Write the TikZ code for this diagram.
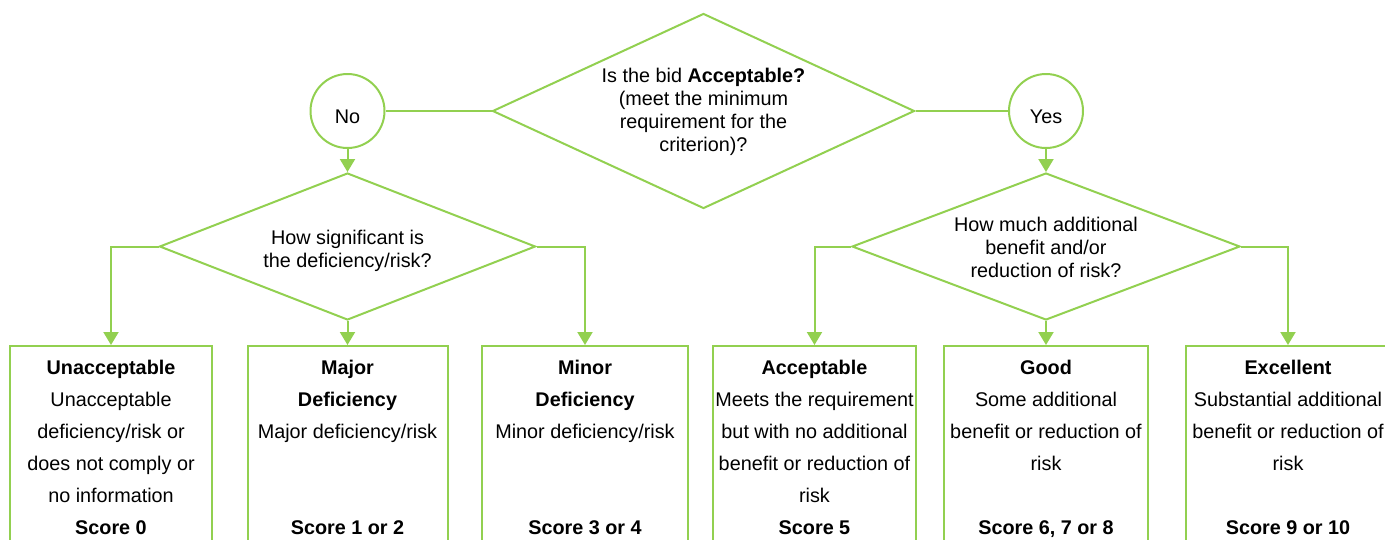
\documentclass[tikz,border=0pt]{standalone}
\usepackage{fontspec}
\setmainfont{Liberation Sans}
\usetikzlibrary{arrows.meta,shapes.geometric}
\definecolor{lgreen}{HTML}{92D050}
\newcommand\mystrut{\rule{0pt}{16pt}}
\begin{document}
\begin{tikzpicture}[x=1pt,y=-1pt,
  line/.style={draw=lgreen,line width=2pt},
  arr/.style={line,-{Triangle[width=15pt,length=13pt]}},
  dia/.style={diamond,draw=lgreen,line width=2pt,inner sep=0pt},
  circ/.style={circle,draw=lgreen,line width=2pt,minimum size=74pt,inner sep=0pt},
  box/.style={rectangle,draw=lgreen,line width=2pt,minimum height=230pt,anchor=north,inner sep=0pt},
  txt/.style={font=\fontsize{19.8}{32}\selectfont,align=center,inner sep=0pt,anchor=north},
  dtxt/.style={font=\fontsize{19.8}{23}\selectfont,align=center,inner sep=0pt,anchor=north},
  lbl/.style={font=\fontsize{19.8}{23}\selectfont,inner sep=0pt,anchor=base}]
\useasboundingbox (0,0) rectangle (1385,539);
\clip (0,0) rectangle (1385,539);
% decision diamonds
\node[dia,minimum width=422pt,minimum height=195pt] (d1) at (703.5,111) {};
\node[dia,minimum width=376pt,minimum height=147pt] (d2) at (347.5,246.5) {};
\node[dia,minimum width=388pt,minimum height=147pt] (d3) at (1046,246.5) {};
% circles
\node[circ] (no) at (347.5,111) {};
\node[circ] (yes) at (1046,111) {};
\node[lbl] (notxt) at (347.5,123) {No};
\node[lbl] (yestxt) at (1046,123.5) {Yes};
% diamond texts
\node[dtxt] (q1) at (703.5,66) {\mystrut Is the bid \textbf{Acceptable?}\\(meet the minimum\\requirement for the\\criterion)?};
\node[dtxt] (q2) at (347.5,228) {\mystrut How significant is\\the deficiency/risk?};
\node[dtxt] (q3) at (1046,215) {\mystrut How much additional\\benefit and/or\\reduction of risk?};
% boxes
\node[box,minimum width=202pt] (b1) at (111,345) {};
\node[box,minimum width=200pt] (b2) at (347.5,345) {};
\node[box,minimum width=206pt] (b3) at (585,345) {};
\node[box,minimum width=203pt] (b4) at (814.5,345) {};
\node[box,minimum width=204pt] (b5) at (1046,345) {};
\node[box,minimum width=204pt] (b6) at (1288,345) {};
% box texts
\node[txt] (t1) at (111,358) {\mystrut\textbf{Unacceptable}\\Unacceptable\\deficiency/risk or\\does not comply or\\no information};
\node[txt] (t2) at (347.5,358) {\mystrut\textbf{Major}\\\textbf{Deficiency}\\Major deficiency/risk};
\node[txt] (t3) at (585,358) {\mystrut\textbf{Minor}\\\textbf{Deficiency}\\Minor deficiency/risk};
\node[txt] (t4) at (814.5,358) {\mystrut\textbf{Acceptable}\\Meets the requirement\\but with no additional\\benefit or reduction of\\risk};
\node[txt] (t5) at (1046,358) {\mystrut\textbf{Good}\\Some additional\\benefit or reduction of\\risk};
\node[txt] (t6) at (1288,358) {\mystrut\textbf{Excellent}\\Substantial additional\\benefit or reduction of\\risk};
\node[lbl] (s1) at (111,534) {\textbf{Score 0}};
\node[lbl] (s2) at (347.5,534) {\textbf{Score 1 or 2}};
\node[lbl] (s3) at (585,534) {\textbf{Score 3 or 4}};
\node[lbl] (s4) at (814.5,534) {\textbf{Score 5}};
\node[lbl] (s5) at (1046,534) {\textbf{Score 6, 7 or 8}};
\node[lbl] (s6) at (1288,534) {\textbf{Score 9 or 10}};
% connectors
\draw[line] (d1.west) -- (no.east);
\draw[line] (d1.east) -- (yes.west);
\draw[arr] (no.south) -- (d2.north);
\draw[arr] (yes.south) -- (d3.north);
\draw[arr] (d2.south) -- (b2.north);
\draw[arr] (d2.west) -| (b1.north);
\draw[arr] (d2.east) -| (b3.north);
\draw[arr] (d3.south) -- (b5.north);
\draw[arr] (d3.west) -| (b4.north);
\draw[arr] (d3.east) -| (b6.north);
\end{tikzpicture}
\end{document}
